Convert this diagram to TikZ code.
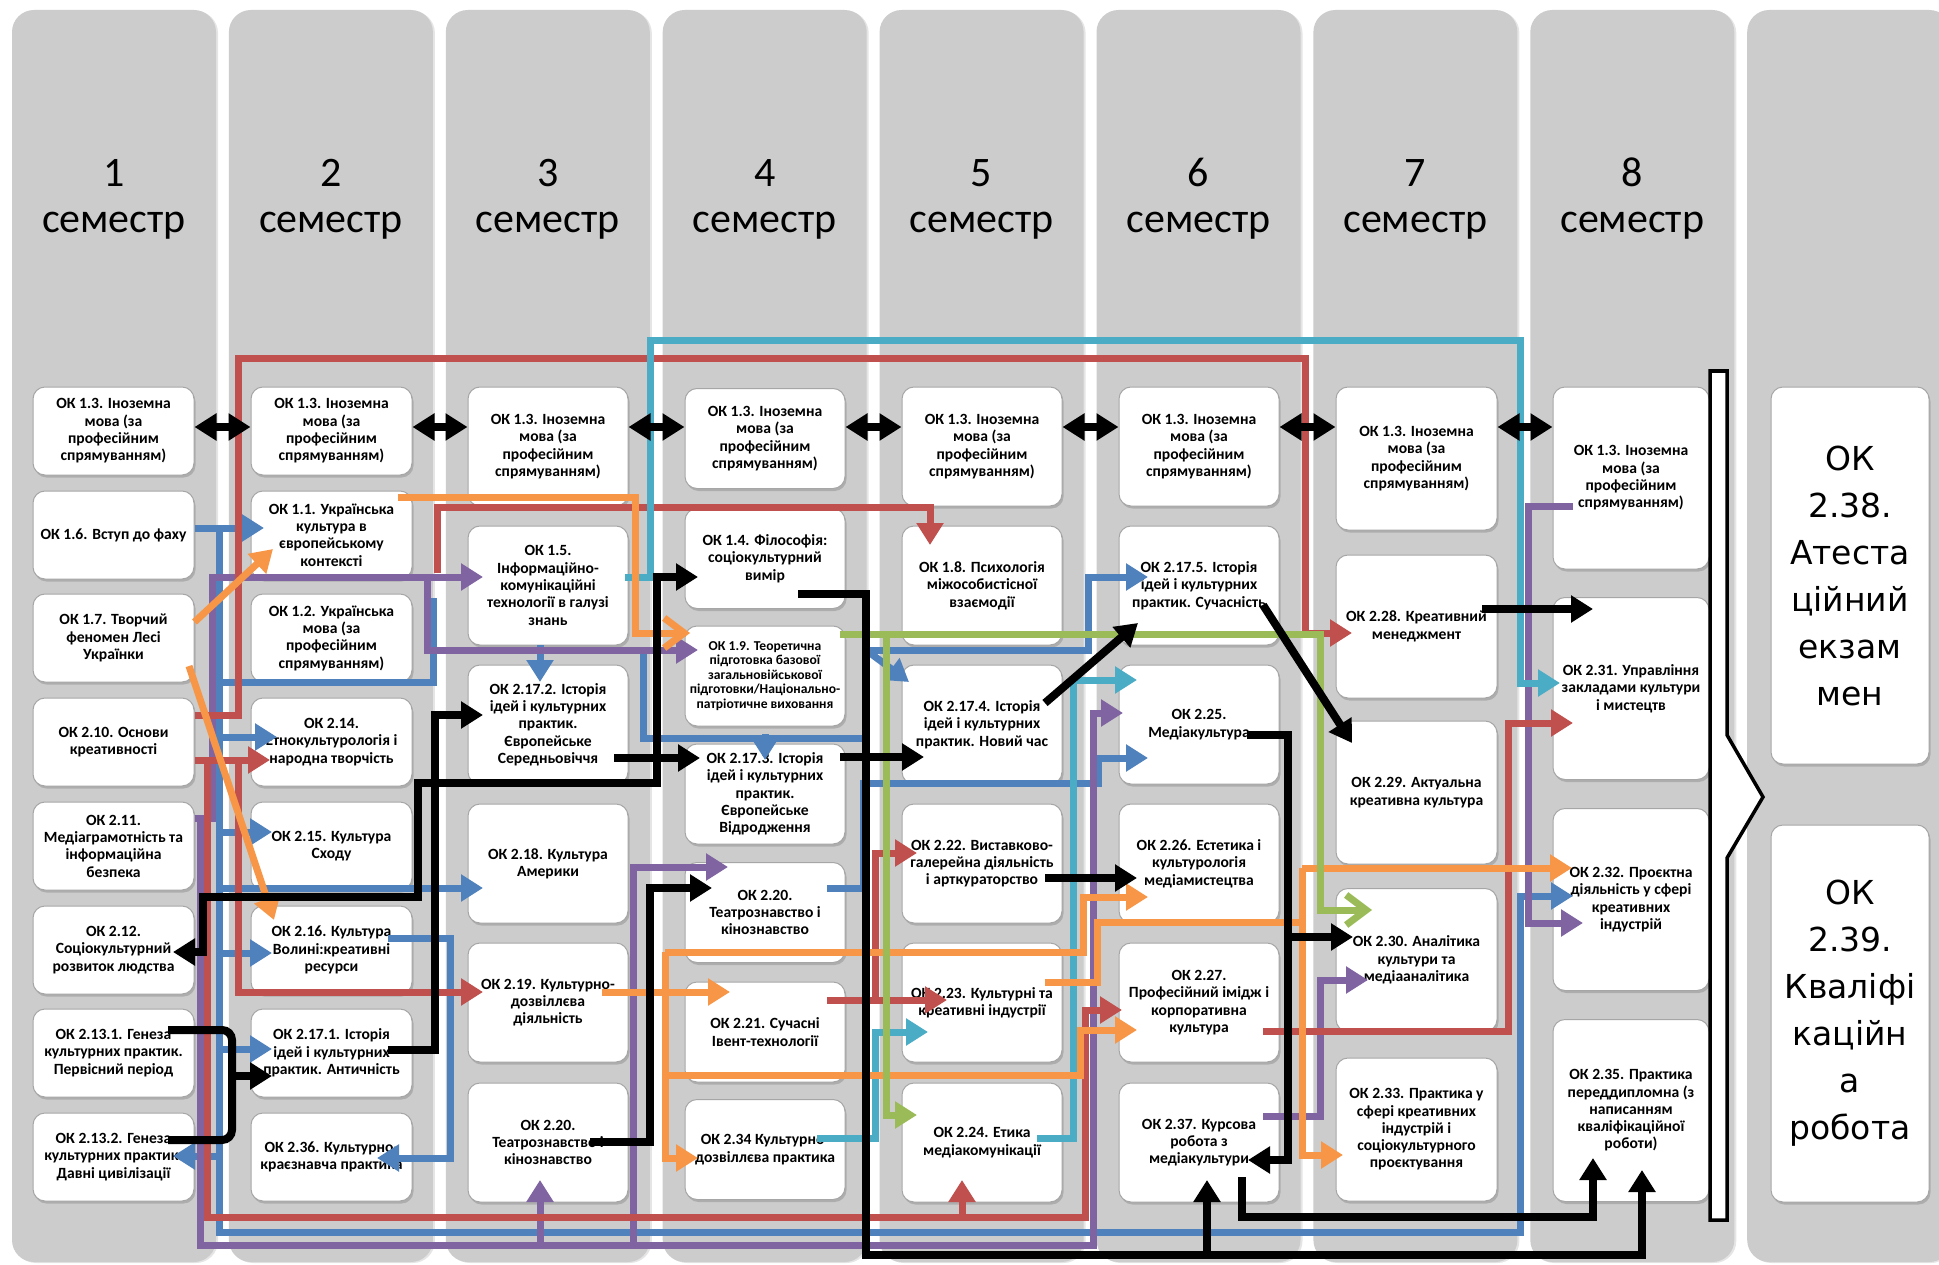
\documentclass[tikz,border=0pt]{standalone}
\usepackage{fontspec}
\setmainfont{Carlito}
\newfontfamily\dejavu{DejaVu Sans}
\usetikzlibrary{arrows.meta,shadows}
\definecolor{colgray}{RGB}{204,204,204}
\definecolor{okred}{RGB}{192,80,77}
\definecolor{okblue}{RGB}{79,129,189}
\definecolor{okviolet}{RGB}{128,100,162}
\definecolor{okorange}{RGB}{247,150,70}
\definecolor{okgreen}{RGB}{155,187,89}
\definecolor{okcyan}{RGB}{75,172,198}
\begin{document}
\begin{tikzpicture}[x=1pt,y=-1pt,>={Triangle[length=22pt,width=26pt]},
  ok/.style={draw=black!35,line width=1pt,fill=white,rounded corners=12pt,align=center,inner sep=1pt,
    font=\bfseries\fontsize{15.6}{17.3}\selectfont,
    drop shadow={shadow xshift=1.5pt,shadow yshift=-2.5pt,opacity=.4}},
  ka/.style={ok,minimum width=161pt,minimum height=88pt},
  kb/.style={ok,minimum width=160pt,minimum height=119pt},
  kc/.style={ok,minimum width=160pt,minimum height=100pt},
  kd/.style={ok,minimum width=161pt,minimum height=143pt},
  ke/.style={ok,minimum width=156pt,minimum height=182pt},
  kf/.style={ok,minimum width=158pt,minimum height=377pt,font=\dejavu\fontsize{33}{47}\selectfont},
  rd/.style={draw=okred,line width=7pt},
  bl/.style={draw=okblue,line width=7pt},
  vi/.style={draw=okviolet,line width=7pt},
  og/.style={draw=okorange,line width=7pt},
  gn/.style={draw=okgreen,line width=7pt},
  cy/.style={draw=okcyan,line width=7pt},
  bk/.style={draw=black,line width=8pt},
  chev/.style={-{Straight Barb[length=20pt,width=30pt]}}]
\useasboundingbox (0,0) rectangle (1939,1265);
\fill[white] (0,0) rectangle (1939,1265);
% columns and semesters
\foreach \i in {0,...,8}
  \fill[colgray,rounded corners=22pt,drop shadow={shadow xshift=2pt,shadow yshift=-1pt,opacity=.2}] ({12+\i*216.9},10) rectangle ++(204,1252);
\foreach \i in {1,...,8}{
  \node[font=\fontsize{42}{42}\selectfont,anchor=base] (n\i) at ({114+(\i-1)*216.9},187) {\i};
  \node[font=\fontsize{42}{42}\selectfont,anchor=base] (s\i) at ({114+(\i-1)*216.9},233) {семестр};
}
% semestr 1
\node[ka] (c1a) at (113.5,431) {ОК 1.3. Іноземна\\мова (за\\професійним\\спрямуванням)};
\node[ka] (c1b) at (113.5,535) {ОК 1.6. Вступ до фаху};
\node[ka] (c1c) at (113.5,638) {ОК 1.7. Творчий\\феномен Лесі\\Українки};
\node[ka] (c1d) at (113.5,742) {ОК 2.10. Основи\\креативності};
\node[ka] (c1e) at (113.5,846) {ОК 2.11.\\Медіаграмотність та\\інформаційна\\безпека};
\node[ka] (c1f) at (113.5,950) {ОК 2.12.\\Соціокультурний\\розвиток людства};
\node[ka] (c1g) at (113.5,1053) {ОК 2.13.1. Генеза\\культурних практик.\\Первісний період};
\node[ka] (c1h) at (113.5,1157) {ОК 2.13.2. Генеза\\культурних практик.\\Давні цивілізації};
% semestr 2
\node[ka] (c2a) at (331.5,431) {ОК 1.3. Іноземна\\мова (за\\професійним\\спрямуванням)};
\node[ka] (c2b) at (331.5,535) {ОК 1.1. Українська\\культура в\\європейському\\контексті};
\node[ka] (c2c) at (331.5,638) {ОК 1.2. Українська\\мова (за\\професійним\\спрямуванням)};
\node[ka] (c2d) at (331.5,742) {ОК 2.14.\\Етнокультурологія і\\народна творчість};
\node[ka] (c2e) at (331.5,846) {ОК 2.15. Культура\\Сходу};
\node[ka] (c2f) at (331.5,950) {ОК 2.16. Культура\\Волині:креативні\\ресурси};
\node[ka] (c2g) at (331.5,1053) {ОК 2.17.1. Історія\\ідей і культурних\\практик. Античність};
\node[ka] (c2h) at (331.5,1157) {ОК 2.36. Культурно-\\краєзнавча практика};
% semestr 3
\node[kb] (c3a) at (548,446.5) {ОК 1.3. Іноземна\\мова (за\\професійним\\спрямуванням)};
\node[kb] (c3b) at (548,585.5) {ОК 1.5.\\Інформаційно-\\комунікаційні\\технології в галузі\\знань};
\node[kb] (c3c) at (548,724.5) {ОК 2.17.2. Історія\\ідей і культурних\\практик.\\Європейське\\Середньовіччя};
\node[kb] (c3d) at (548,863.5) {ОК 2.18. Культура\\Америки};
\node[kb] (c3e) at (548,1002.5) {ОК 2.19. Культурно-\\дозвіллєва\\діяльність};
\node[kb] (c3f) at (548,1142.5) {ОК 2.20.\\Театрознавство і\\кінознавство};
% semestr 4
\node[kc] (c4a) at (765,438.5) {ОК 1.3. Іноземна\\мова (за\\професійним\\спрямуванням)};
\node[kc] (c4b) at (765,558.5) {ОК 1.4. Філософія:\\соціокультурний\\вимір};
\node[kc,font=\bfseries\fontsize{13.6}{14.6}\selectfont] (c4c) at (765,676) {ОК 1.9. Теоретична\\підготовка базової\\загальновійськової\\підготовки/Національно-\\патріотичне виховання};
\node[kc] (c4d) at (765,794) {ОК 2.17.3. Історія\\ідей і культурних\\практик.\\Європейське\\Відродження};
\node[kc] (c4e) at (765,912.5) {ОК 2.20.\\Театрознавство і\\кінознавство};
\node[kc] (c4f) at (765,1032) {ОК 2.21. Сучасні\\Івент-технології};
\node[kc] (c4g) at (765,1149.5) {ОК 2.34 Культурно-\\дозвіллєва практика};
% semestr 5
\node[kb] (c5a) at (982,446.5) {ОК 1.3. Іноземна\\мова (за\\професійним\\спрямуванням)};
\node[kb] (c5b) at (982,585.5) {ОК 1.8. Психологія\\міжособистісної\\взаємодії};
\node[kb] (c5c) at (982,724.5) {ОК 2.17.4. Історія\\ідей і культурних\\практик. Новий час};
\node[kb] (c5d) at (982,863.5) {ОК 2.22. Виставково-\\галерейна діяльність\\і арткураторство};
\node[kb] (c5e) at (982,1002.5) {ОК 2.23. Культурні та\\креативні індустрії};
\node[kb] (c5f) at (982,1142.5) {ОК 2.24. Етика\\медіакомунікації};
% semestr 6
\node[kb] (c6a) at (1199,446.5) {ОК 1.3. Іноземна\\мова (за\\професійним\\спрямуванням)};
\node[kb] (c6b) at (1199,585.5) {ОК 2.17.5. Історія\\ідей і культурних\\практик. Сучасність};
\node[kb] (c6c) at (1199,724.5) {ОК 2.25.\\Медіакультура};
\node[kb] (c6d) at (1199,863.5) {ОК 2.26. Естетика і\\культурологія\\медіамистецтва};
\node[kb] (c6e) at (1199,1002.5) {ОК 2.27.\\Професійний імідж і\\корпоративна\\культура};
\node[kb] (c6f) at (1199,1142.5) {ОК 2.37. Курсова\\робота з\\медіакультури};
% semestr 7
\node[kd] (c7a) at (1416.5,458.5) {ОК 1.3. Іноземна\\мова (за\\професійним\\спрямуванням)};
\node[kd] (c7b) at (1416.5,626.5) {ОК 2.28. Креативний\\менеджмент};
\node[kd] (c7c) at (1416.5,792.5) {ОК 2.29. Актуальна\\креативна культура};
\node[kd] (c7d) at (1416.5,960) {ОК 2.30. Аналітика\\культури та\\медіааналітика};
\node[kd] (c7e) at (1416.5,1129.5) {ОК 2.33. Практика у\\сфері креативних\\індустрій і\\соціокультурного\\проєктування};
% semestr 8
\node[ke] (c8a) at (1631,478) {ОК 1.3. Іноземна\\мова (за\\професійним\\спрямуванням)};
\node[ke] (c8b) at (1631,688.5) {ОК 2.31. Управління\\закладами культури\\і мистецтв};
\node[ke] (c8c) at (1631,899.5) {ОК 2.32. Проєктна\\діяльність у сфері\\креативних\\індустрій};
\node[ke] (c8d) at (1631,1110.5) {ОК 2.35. Практика\\переддипломна (з\\написанням\\кваліфікаційної\\роботи)};
% attestation
\node[kf] (c9a) at (1850,575.5) {ОК\\2.38.\\Атеста\\ційний\\екзам\\мен};
\node[kf] (c9b) at (1850,1013.5) {ОК\\2.39.\\Кваліфі\\каційн\\а\\робота};
\draw[line width=3.5pt,fill=white] (1710,371) -- (1727,371) -- (1727,735) -- (1763,797) -- (1727,858) -- (1727,1220) -- (1710,1220) -- cycle;
% blue
\draw[bl,->] (c1b.east |- 0,528) -- (264,528);
\draw[bl,->] (219,528) -- (219,1232) -- (1520,1232) -- (1520,896) -- (1573,896);
\draw[bl,->] (219,737) -- (277,737);
\draw[bl,->] (219,832) -- (272,832);
\draw[bl,->] (219,953) -- (272,953);
\draw[bl,->] (219,1049) -- (272,1049);
\draw[bl,->] (219,1156) -- (173,1156);
\draw[bl,->] (219,888) -- (483,888);
\draw[bl] (219,682) -- (433,682) -- (433,598);
\draw[bl,->] (388,938) -- (450,938) -- (450,1158) -- (377,1158);
\draw[bl,->] (540,645) -- (540,682);
\draw[bl,->] (643,652) -- (643,738) -- (866,738) -- (866,650) -- (1088,650) -- (1088,577) -- (1148,577);
\draw[bl,->] (765,734) -- (765,760);
\draw[bl,->] (870,653) -- (909,682);
\draw[bl,->] (827,888) -- (863,888) -- (863,783) -- (1098,783) -- (1098,758) -- (1148,758);
% violet
\draw[vi,->] (c1e.east |- 0,818) -- (212,818) -- (212,577) -- (483,577);
\draw[vi,->] (427,577) -- (427,650) -- (698,650);
\draw[vi,->] (c1e.east |- 0,818) -- (200,818) -- (200,1245) -- (1093,1245) -- (1093,713) -- (1123,713);
\draw[vi,->] (540,1245) -- (540,1180);
\draw[vi,->] (633,1245) -- (633,867) -- (728,867);
\draw[vi,->] (1573,506) -- (1528,506) -- (1528,923) -- (1583,923);
\draw[vi,->] (1263,1116) -- (1320,1116) -- (1320,980) -- (1368,980);
% red
\draw[rd,->] (c1d.east |- 0,715) -- (238,715) -- (238,359) -- (1305,359) -- (1305,633) -- (1352,633);
\draw[rd,->] (c1d.east |- 0,760) -- (270,760);
\draw[rd,->] (238,760) -- (238,992) -- (483,992);
\draw[rd,->] (207,760) -- (207,1217) -- (1085,1217) -- (1085,1010) -- (1122,1010);
\draw[rd,->] (962,1217) -- (962,1180);
\draw[rd,->] (437,573) -- (437,507) -- (930,507) -- (930,545);
\draw[rd,->] (827,1000) -- (947,1000);
\draw[rd,->] (875,1000) -- (875,853) -- (917,853);
\draw[rd,->] (1263,1031) -- (1508,1031) -- (1508,723) -- (1573,723);
% cyan
\draw[cy,->] (625,577) -- (650,577) -- (650,341) -- (1520,341) -- (1520,683) -- (1560,683);
\draw[cy,->] (817,1138) -- (875,1138) -- (875,1032) -- (928,1032);
\draw[cy,->] (1037,1138) -- (1073,1138) -- (1073,680) -- (1137,680);
% orange
\draw[og,chev] (398,497) -- (635,497) -- (635,633) -- (690,633);
\draw[og,->] (c1c.east |- 0,622) -- (273,549);
\draw[og,->] (189,666) -- (274,920);
\draw[og,->] (602,992) -- (730,992);
\draw[og,->] (665,952) -- (665,1158) -- (698,1158);
\draw[og,->] (665,952) -- (1083,952) -- (1083,897) -- (1148,897);
\draw[og,->] (665,1075) -- (1080,1075) -- (1080,1030) -- (1137,1030);
\draw[og] (1045,982) -- (1097,982) -- (1097,922) -- (1302,922);
\draw[og,->] (1302,868) -- (1302,1155) -- (1343,1155);
\draw[og,->] (1302,868) -- (1572,868);
% green
\draw[gn,chev] (840,634) -- (1320,634) -- (1320,910) -- (1372,910);
\draw[gn,->] (886,634) -- (886,1115) -- (917,1115);
% black
\foreach \a/\b in {c1a/c2a,c2a/c3a,c3a/c4a,c4a/c5a,c5a/c6a,c6a/c7a,c7a/c8a}
  \draw[bk,<->] (\a.east |- 0,427) -- (\b.west |- 0,427);
\draw[bk,rounded corners=10pt] (168,1030) -- (232,1030) -- (232,1140) -- (168,1140);
\draw[bk,->] (232,1076) -- (272,1076);
\draw[bk,->] (388,1050) -- (435,1050) -- (435,715) -- (483,715);
\draw[bk,<->] (698,577) -- (657,577) -- (657,783) -- (418,783) -- (418,897) -- (203,897) -- (203,952) -- (173,952);
\draw[bk,->] (614,758) -- (700,758);
\draw[bk,->] (590,1142) -- (650,1142) -- (650,888) -- (712,888);
\draw[bk,->] (798,594) -- (866,594) -- (866,1255) -- (1642,1255) -- (1642,1170);
\draw[bk,->] (1207,1255) -- (1207,1180);
\draw[bk,->] (840,757) -- (924,757);
\draw[bk,->] (1045,703) -- (1138,623);
\draw[bk,->] (1263,605) -- (1352,743);
\draw[bk,->] (1045,878) -- (1137,878);
\draw[bk,->] (1247,735) -- (1288,735) -- (1288,937) -- (1353,937);
\draw[bk,->] (1288,937) -- (1288,1160) -- (1248,1160);
\draw[bk,->] (1242,1177) -- (1242,1217) -- (1593,1217) -- (1593,1158);
\draw[bk,->] (1482,609) -- (1593,609);
\end{tikzpicture}
\end{document}
